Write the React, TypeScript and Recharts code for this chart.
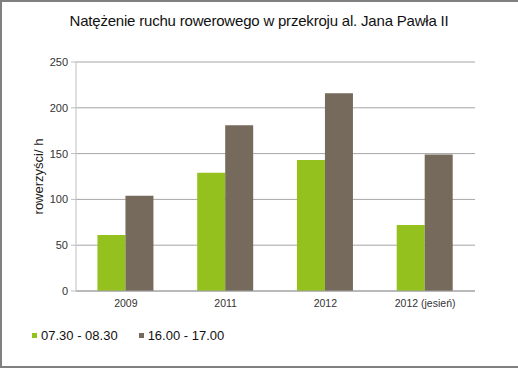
import { BarChart, Bar, XAxis, YAxis, CartesianGrid } from 'recharts'

const categories = ['2009', '2011', '2012', '2012 (jesień)']
const morning = [61, 129, 143, 72]
const afternoon = [104, 181, 216, 149]
const yTicks = [0, 50, 100, 150, 200, 250]

const FONT = '"Liberation Sans", Arial, sans-serif'
const GREEN = '#95c11f'
const BROWN = '#756a5b'

const data = categories.map((c, i) => ({ name: c, rano: morning[i], popoludnie: afternoon[i] }))

const series = [
  { key: 'rano', label: '07.30 - 08.30', color: GREEN },
  { key: 'popoludnie', label: '16.00 - 17.00', color: BROWN },
]

function YLabel(props: any) {
  const vb = props.viewBox || { x: 0, y: 62, width: 76, height: 229 }
  const cx = vb.x + 38
  const cy = vb.y + vb.height / 2
  return (
    <text x={cx} y={cy} transform={`rotate(-90 ${cx} ${cy})`} textAnchor="middle" dominantBaseline="central"
      fontSize={13} fill="#1a1a1a" fontFamily={FONT}>
      rowerzyści/ h
    </text>
  )
}

export default function App() {
  return (
    <div style={{ position: 'fixed', left: 0, top: 0, width: 518, height: 368, background: '#fff' }}>
      {/* x axis keeps its default 30px height, so bottom margin = 77 - 30 */}
      <BarChart width={518} height={368} data={data} barGap={0} barCategoryGap="21.5%"
        margin={{ top: 62, right: 43, bottom: 47, left: 0 }} style={{ position: 'absolute', left: 0, top: 0 }}>
        <CartesianGrid vertical={false} stroke="#a6a6a6" />
        <XAxis dataKey="name" stroke="#a0a0a0" tickLine={false} tickSize={0} tickMargin={9}
          tick={{ fontSize: 10.5, fill: '#333', fontFamily: FONT }} />
        <YAxis width={76} domain={[0, 250]} ticks={yTicks} stroke="#bfbfbf" tickSize={5} tickMargin={3}
          tick={{ fontSize: 11, fill: '#333', fontFamily: FONT }} label={<YLabel />} />
        {series.map(s => (
          <Bar key={s.key} dataKey={s.key} fill={s.color} isAnimationActive={false} />
        ))}
      </BarChart>
      <div style={{ position: 'absolute', left: 0, right: 0, top: 12, textAlign: 'center', fontFamily: FONT,
        fontSize: 15, letterSpacing: -0.2, color: '#111' }}>
        Natężenie ruchu rowerowego w przekroju al. Jana Pawła II
      </div>
      <div style={{ position: 'absolute', left: 32, top: 328, display: 'flex', fontFamily: FONT, fontSize: 13,
        color: '#111' }}>
        {series.map(s => (
          <div key={s.key} style={{ display: 'flex', alignItems: 'center', marginRight: 21 }}>
            <span style={{ width: 5, height: 5, background: s.color, display: 'inline-block', marginRight: 4 }} />
            <span>{s.label}</span>
          </div>
        ))}
      </div>
      <div style={{ position: 'absolute', left: 0, top: 0, width: 518, height: 368, boxSizing: 'border-box',
        borderLeft: '2px solid #808080', borderTop: '2px solid #808080', borderBottom: '2px solid #808080',
        pointerEvents: 'none' }} />
    </div>
  )
}
